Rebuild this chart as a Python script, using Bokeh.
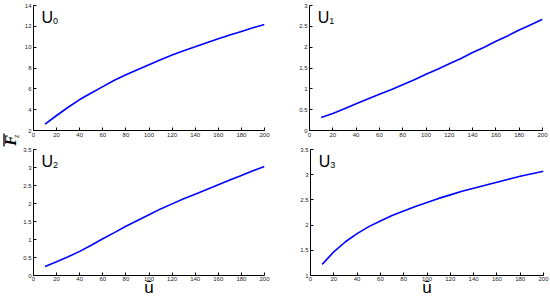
import math
from bokeh.plotting import figure
from bokeh.layouts import row, column
from bokeh.models import FixedTicker, Label, ColumnDataSource
from bokeh.core.properties import value
from bokeh.embed import file_html
from bokeh.resources import INLINE

u_bar = [10, 20, 30, 40, 50, 60, 70, 80, 90, 100, 110, 120, 130, 140, 150, 160, 170, 180, 190, 200]
U0 = [2.61, 3.44, 4.23, 4.97, 5.60, 6.21, 6.82, 7.36, 7.84, 8.32, 8.80, 9.25, 9.66, 10.04,
      10.43, 10.81, 11.16, 11.51, 11.86, 12.18]
U1 = [0.31, 0.41, 0.52, 0.64, 0.755, 0.87, 0.98, 1.10, 1.22, 1.35, 1.47, 1.60, 1.73, 1.87,
      2.00, 2.14, 2.27, 2.41, 2.54, 2.67]
U2 = [0.25, 0.38, 0.52, 0.67, 0.84, 1.02, 1.19, 1.37, 1.53, 1.69, 1.85, 1.99, 2.13, 2.26,
      2.39, 2.52, 2.65, 2.78, 2.91, 3.03]
U3 = [1.22, 1.47, 1.67, 1.83, 1.97, 2.08, 2.19, 2.28, 2.37, 2.45, 2.53, 2.60, 2.67, 2.73,
      2.79, 2.85, 2.91, 2.97, 3.02, 3.07]

x_ticks = [0, 20, 40, 60, 80, 100, 120, 140, 160, 180, 200]
y_ticks0 = [2, 4, 6, 8, 10, 12, 14]
y_ticks1 = [0, 0.5, 1, 1.5, 2, 2.5, 3]
y_ticks2 = [0, 0.5, 1, 1.5, 2, 2.5, 3, 3.5]
y_ticks3 = [1, 1.5, 2, 2.5, 3, 3.5]

FONT = "Liberation Sans"


def fmt(v):
    return ("%g" % v)


def panel(w, h, bl, br, bt, bb, ys, yticks, sub, xlabel):
    p = figure(width=w, height=h, x_range=(0, 200), y_range=(yticks[0], yticks[-1]),
               output_backend="svg", toolbar_location=None,
               min_border_left=bl, min_border_right=br, min_border_top=bt, min_border_bottom=bb)
    p.outline_line_color = None
    p.grid.visible = False
    p.background_fill_color = "white"
    p.border_fill_color = "white"
    p.line(u_bar, ys, line_color="#0000ff", line_width=1.6)
    p.xaxis.ticker = FixedTicker(ticks=x_ticks)
    p.yaxis.ticker = FixedTicker(ticks=yticks)
    p.xaxis.major_label_overrides = {t: fmt(t) for t in x_ticks}
    p.yaxis.major_label_overrides = {t: fmt(t) for t in yticks}
    for ax in (p.xaxis[0], p.yaxis[0]):
        ax.major_tick_in = 3
        ax.major_tick_out = 0
        ax.minor_tick_in = 0
        ax.minor_tick_out = 0
        ax.axis_line_color = "black"
        ax.axis_line_width = 1
        ax.major_tick_line_color = "black"
        ax.major_label_text_font = FONT
        ax.major_label_text_font_size = "6px"
        ax.major_label_text_color = "#222222"
        ax.major_label_standoff = 2
    if xlabel:
        ax = p.xaxis[0]
        ax.major_label_standoff = 1
        ax.major_label_text_line_height = 0.9
        ax.axis_label = "ū"
        ax.axis_label_text_font = FONT
        ax.axis_label_text_font_style = "normal"
        ax.axis_label_text_font_size = "17px"
        ax.axis_label_text_color = "black"
        ax.axis_label_text_line_height = 0.8
        ax.axis_label_standoff = -6
    p.add_layout(Label(x=7, y=yticks[-1], y_offset=-3, text="U", text_baseline="top",
                       text_font=FONT, text_font_size="16px", text_color="black"))
    p.add_layout(Label(x=7, y=yticks[-1], x_offset=11.5, y_offset=-12, text=sub, text_baseline="top",
                       text_font=FONT, text_font_size="9px", text_color="black"))
    return p


p0 = panel(255, 145, 13, 11, 5, 15, U0, y_ticks0, "0", False)
p1 = panel(275, 145, 34, 8, 5, 14, U1, y_ticks1, "1", False)
p2 = panel(255, 154, 12, 11, 3, 20, U2, y_ticks2, "2", True)
p3 = panel(275, 154, 35, 7, 4, 20, U3, y_ticks3, "3", True)

# y-axis label column (F-bar, subscript z)
lf = figure(width=20, height=299, x_range=(0, 20), y_range=(0, 299),
            output_backend="svg", toolbar_location=None,
            min_border_left=0, min_border_right=0, min_border_top=0, min_border_bottom=0)
lf.axis.visible = False
lf.grid.visible = False
lf.outline_line_color = None
lab_src = ColumnDataSource(dict(x=[10], y=[159], t=["F"]))
lf.text(x="x", y="y", text="t", source=lab_src, angle=math.pi / 2,
        text_font=value("Liberation Serif"), text_font_style="bold italic", text_font_size="16px",
        text_align="center", text_baseline="middle", text_color="black")
sub_src = ColumnDataSource(dict(x=[16], y=[163], t=["z"]))
lf.text(x="x", y="y", text="t", source=sub_src, angle=math.pi / 2,
        text_font=value("Liberation Serif"), text_font_style="italic", text_font_size="8px",
        text_align="center", text_baseline="middle", text_color="black")
lf.segment(x0=[3.5], y0=[153], x1=[3.5], y1=[166], line_color="black", line_width=1.3)

layout = row(lf, column(row(p0, p1), row(p2, p3)))

open("out.html", "w").write(file_html(layout, INLINE))
